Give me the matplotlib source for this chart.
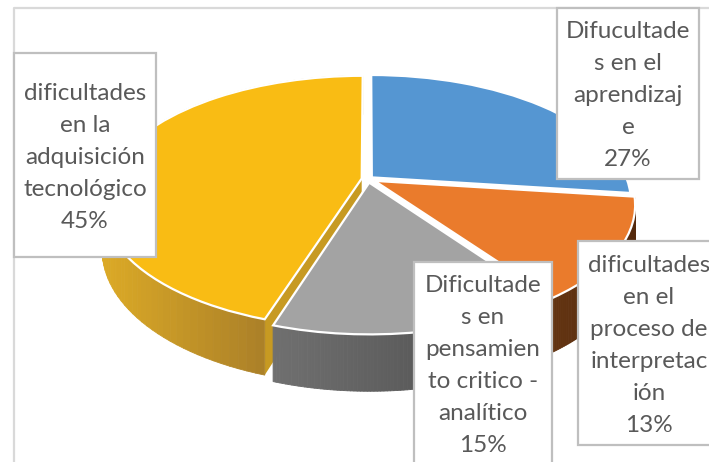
# -*- coding: utf-8 -*-
### IMPORT DEPENDENCIES
import matplotlib
matplotlib.use('Agg')
import matplotlib.pyplot as plt
import numpy as np
from matplotlib.collections import PolyCollection
from matplotlib.patches import Rectangle
from matplotlib.transforms import Transform

### DATA
shares = [27, 13, 15, 45]
labels_blue = ['Difucultade', 's en el', 'aprendizaj', 'e', '27%']
labels_orange = ['dificultades', 'en el', 'proceso de', 'interpretac', 'ión', '13%']
labels_gray = ['Dificultade', 's en', 'pensamien', 'to critico -', 'analítico', '15%']
labels_yellow = ['dificultades', 'en la', 'adquisición', 'tecnológico', '45%']

explode = [0.02, 0.03, 0.03, 0.025]
top_colors = ['#5596d2', '#ea7b2c', '#a3a3a3', '#f9bc14']
side_left = ['#3f6f9c', '#633412', '#707070', '#dcaa26']
side_right = ['#2f5578', '#55290c', '#484848', '#ab8028']

### PERSPECTIVE OF THE TILTED PIE (unit circle -> pixels)
CX, CY = 368, 179
RX, RY = 255, 122
K = 0.186
DEPTH = 46


def project(xy):
    '''
    Project unit pie coordinates on the picture
    '''
    xy = np.asarray(xy, dtype=float)
    w = 1 + K * xy[:, 1]
    return np.column_stack((CX + RX * xy[:, 0] / w, CY - RY * xy[:, 1] / w))


class PieTilt(Transform):
    input_dims = 2
    output_dims = 2
    is_separable = False

    def transform_non_affine(self, values):
        return project(values)


def wall_drop(xy):
    return DEPTH / (1 + K * xy[:, 1])


def hex_rgb(c):
    return np.array(matplotlib.colors.to_rgb(c))


fig = plt.figure(figsize=(7.09, 4.62), dpi=100)
ax = fig.add_axes([0, 0, 1, 1])

wedges, _ = ax.pie(shares, explode=explode, colors=top_colors, startangle=90,
                   counterclock=False, wedgeprops={'edgecolor': 'white', 'linewidth': 1.6})
ax.set_aspect('auto')
ax.set_xlim(0, 709)
ax.set_ylim(462, 0)
ax.axis('off')

tilt = PieTilt()

### SIDE WALLS
for i, wedge in enumerate(wedges):
    wedge.set_transform(tilt + ax.transData)
    wedge.set_zorder(5)
    if i == 0:
        # the blue wall is not visible in the picture
        continue
    th = np.radians(np.linspace(wedge.theta1, wedge.theta2, 90))
    rim = np.column_stack((wedge.center[0] + np.cos(th), wedge.center[1] + np.sin(th)))
    top = project(rim)
    low = top + np.column_stack((np.zeros(len(top)), wall_drop(rim)))
    quads = []
    cols = []
    front = np.where(rim[:, 1] < 0.25)[0]
    xmin, xmax = top[front, 0].min(), top[front, 0].max()
    for j in range(len(top) - 1):
        quads.append([top[j], top[j + 1], low[j + 1], low[j]])
        f = (0.5 * (top[j, 0] + top[j + 1, 0]) - xmin) / (xmax - xmin)
        f = min(max(f, 0), 1)
        cols.append((1 - f) * hex_rgb(side_left[i]) + f * hex_rgb(side_right[i]))
    ax.add_collection(PolyCollection(quads, facecolors=cols, edgecolors=cols,
                                     linewidths=0.6, zorder=3 + 0.01 * i))

### CUT FACE OF THE YELLOW SLICE, SEEN THROUGH THE GAP
yellow = wedges[3]
corner = np.array([[yellow.center[0] + np.cos(np.radians(yellow.theta2)),
                    yellow.center[1] + np.sin(np.radians(yellow.theta2))]])
tip = np.array([yellow.center])
p_tip, p_corner = project(tip)[0], project(corner)[0]
d_tip, d_corner = wall_drop(tip)[0], wall_drop(corner)[0]
ax.fill([p_tip[0], p_corner[0], p_corner[0], p_tip[0]],
        [p_tip[1], p_corner[1], p_corner[1] + d_corner, p_tip[1] + d_tip],
        color='#c79a22', lw=0, zorder=2.5)

### CHART FRAME
ax.plot([13.5, 13.5, 709], [462, 8, 8], color='#d9d9d9', lw=1.6, zorder=1)


### DATA LABELS
def label_box(lines, x0, y0, x1, y1, xc, yc):
    ax.add_patch(Rectangle((x0, y0), x1 - x0, y1 - y0, facecolor='white',
                           edgecolor='#bfbfbf', lw=1.6, zorder=8))
    for n, line in enumerate(lines):
        ax.text(xc, yc + n * 32, line, ha='center', va='center', color='#595959',
                fontsize=17.5, family='Lato', zorder=9)


label_box(labels_yellow, 14, 53, 156, 257, 85, 93)
label_box(labels_blue, 557, 8, 699, 179, 628, 31)
label_box(labels_orange, 578, 241, 725, 445, 649, 265)
label_box(labels_gray, 414, 262, 552, 480, 483, 286)

fig.savefig('out.png', dpi=100)
